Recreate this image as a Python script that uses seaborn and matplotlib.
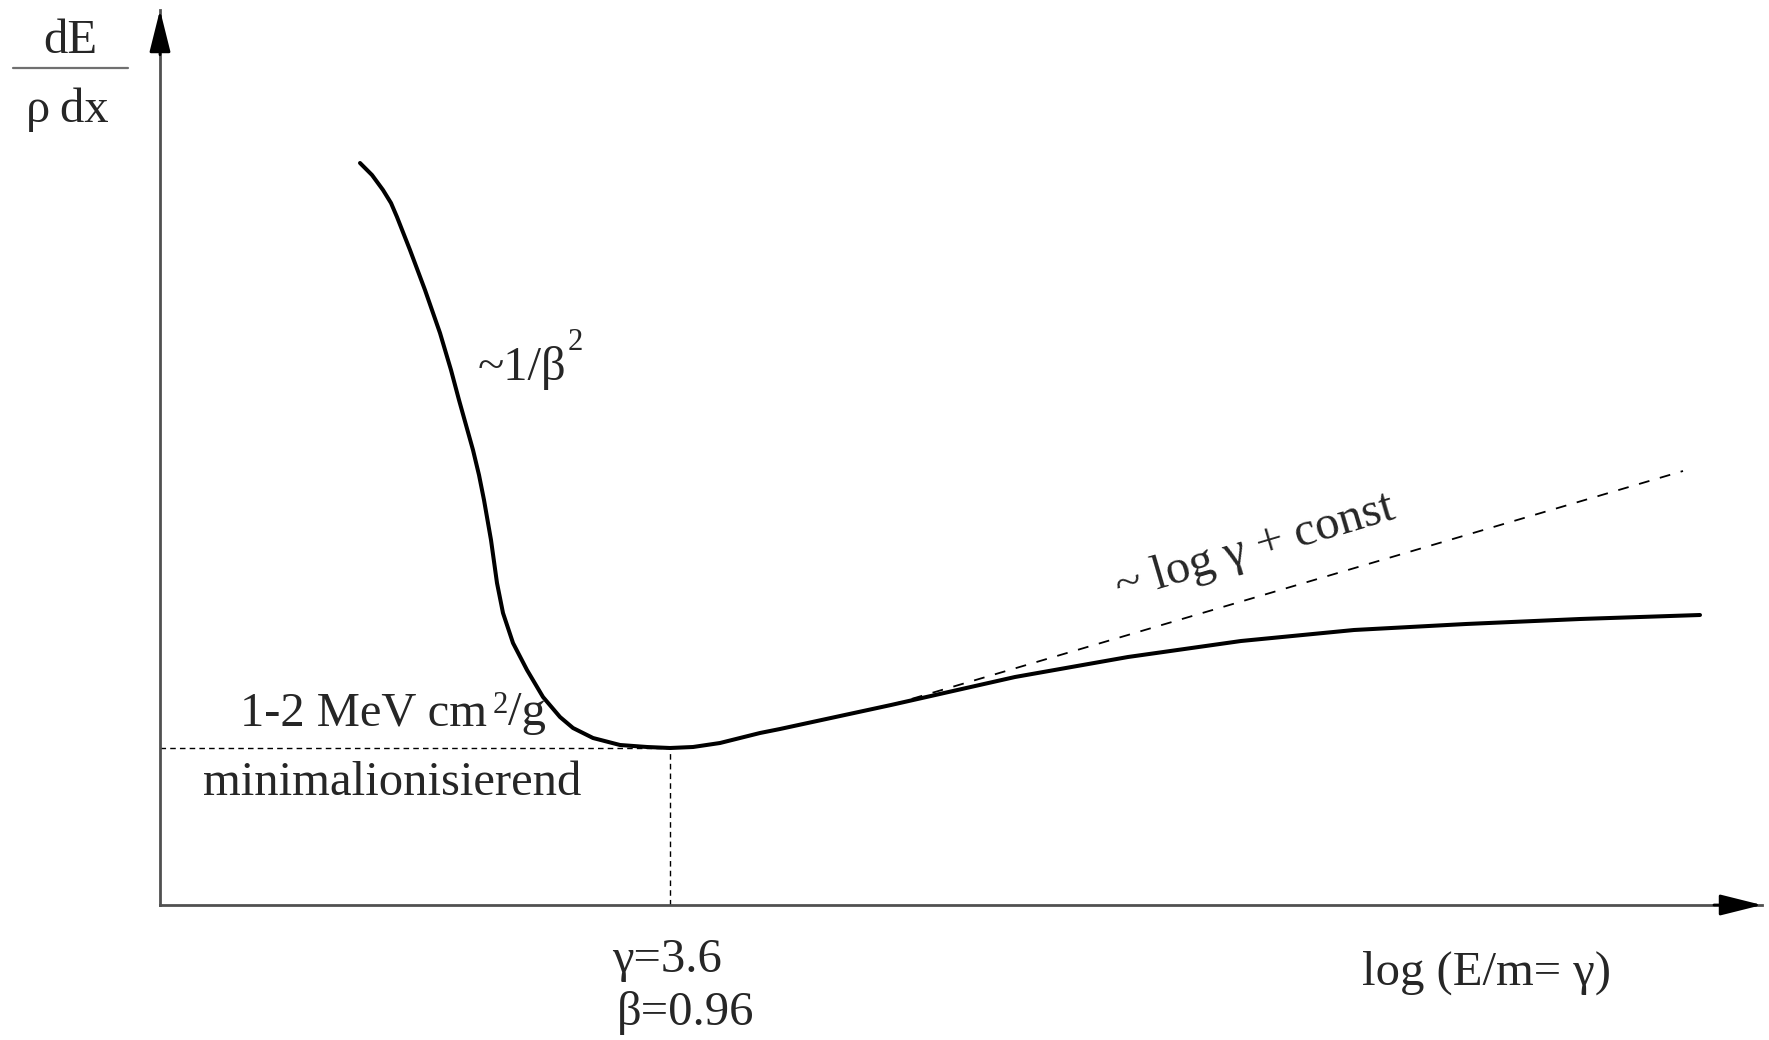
import matplotlib
matplotlib.use("Agg")
import numpy as np
import pandas as pd
import seaborn as sns
import matplotlib.pyplot as plt

# energy loss curve (arbitrary units)
log_gamma = [2.00, 2.12, 2.23, 2.31, 2.37, 2.50, 2.65, 2.80, 2.91, 2.99,
             3.06, 3.13, 3.19, 3.24, 3.31, 3.37, 3.43, 3.53, 3.67, 3.83,
             4.00, 4.13, 4.33, 4.60, 4.87, 5.10, 5.33, 5.60, 5.80, 6.00,
             6.20, 7.31, 8.55, 9.68, 10.81, 11.94, 13.06, 14.20, 15.40]
dedx = [7.42, 7.30, 7.15, 7.02, 6.88, 6.55, 6.15, 5.72, 5.35, 5.05,
        4.80, 4.55, 4.30, 4.05, 3.65, 3.22, 2.92, 2.62, 2.35, 2.08,
        1.88, 1.77, 1.67, 1.60, 1.58, 1.57, 1.58, 1.62, 1.67, 1.72,
        1.76, 2.00, 2.28, 2.48, 2.64, 2.75, 2.81, 2.86, 2.90]

# relativistic rise without density effect (~ log gamma + const)
rise_x = [7.31, 15.23]
rise_y = [2.00, 4.34]

# minimum ionisation point
min_x = 5.10
min_y = 1.57

x_max = 16.02
y_max = 8.95

df = pd.DataFrame({"log_gamma": log_gamma, "dedx": dedx})

sns.set_style("white")
plt.rcParams["font.family"] = ["Liberation Serif", "DejaVu Serif"]

fig = plt.figure(figsize=(17.69, 10.40), dpi=100)
ax = fig.add_axes([160 / 1769, 135 / 1040, 1602 / 1769, 895 / 1040])

sns.lineplot(data=df, x="log_gamma", y="dedx", color="black", linewidth=2.9, ax=ax)
ax.plot(rise_x, rise_y, color="black", linewidth=1.3, linestyle=(0, (6.0, 6.0)))
ax.plot([0, min_x], [min_y, min_y], color="black", linewidth=1.0, linestyle=(0, (4.0, 3.0)))
ax.plot([min_x, min_x], [0, min_y], color="black", linewidth=1.0, linestyle=(0, (4.0, 3.0)))

ax.set_xlim(0, x_max)
ax.set_ylim(0, y_max)
ax.set_xticks([])
ax.set_yticks([])
ax.set_xlabel("")
ax.set_ylabel("")
for side in ["top", "right"]:
    ax.spines[side].set_visible(False)
for side in ["left", "bottom"]:
    ax.spines[side].set_color("#505050")
    ax.spines[side].set_linewidth(2.0)

# arrow heads on the axes
head = dict(arrowstyle="-|>,head_length=2.6,head_width=0.65", color="black",
            lw=2.0, shrinkA=0, shrinkB=0, mutation_scale=10)
ax.annotate("", xy=(1, 0), xytext=(0.97, 0), xycoords="axes fraction",
            textcoords="axes fraction", arrowprops=head, annotation_clip=False)
ax.annotate("", xy=(0, 1), xytext=(0, 0.95), xycoords="axes fraction",
            textcoords="axes fraction", arrowprops=head, annotation_clip=False)

fs = 35
sup = 22
# y label as a fraction
ax.text(-0.90, 8.52, "dE", ha="center", va="baseline", fontsize=fs, clip_on=False)
ax.plot([-1.47, -0.32], [8.37, 8.37], color="#707070", linewidth=1.6, clip_on=False)
ax.text(-0.93, 7.83, "ρ\u2009dx", ha="center", va="baseline", fontsize=fs, clip_on=False)

ax.text(3.18, 5.25, "~1/β", ha="left", va="baseline", fontsize=fs)
ax.text(4.08, 5.55, "2", ha="left", va="baseline", fontsize=sup)

ax.text(0.80, 1.80, "1-2 MeV cm", ha="left", va="baseline", fontsize=fs)
ax.text(3.33, 1.92, "2", ha="left", va="baseline", fontsize=sup)
ax.text(3.48, 1.80, "/g", ha="left", va="baseline", fontsize=fs)
ax.text(0.43, 1.10, "minimalionisierend", ha="left", va="baseline", fontsize=fs)
ax.text(9.60, 3.05, "~ log γ + const", ha="left", va="baseline", fontsize=fs,
        rotation=16.5, rotation_mode="anchor")

ax.text(4.52, -0.67, "γ=3.6", ha="left", va="baseline", fontsize=fs, clip_on=False)
ax.text(4.57, -1.20, "β=0.96", ha="left", va="baseline", fontsize=fs, clip_on=False)
ax.text(12.02, -0.80, "log (E/m= γ)", ha="left", va="baseline", fontsize=fs, clip_on=False)

fig.savefig("out.png", dpi=100)
